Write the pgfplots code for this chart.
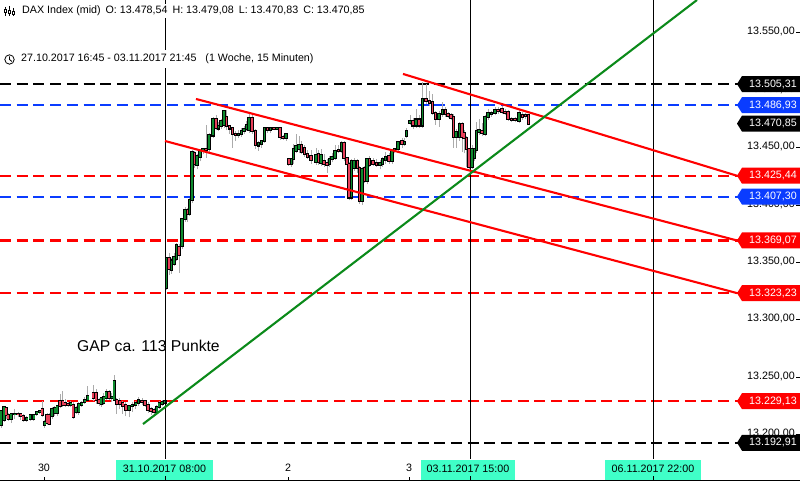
\documentclass[border=0pt]{standalone}
\usepackage{fontspec}
\setmainfont{Liberation Sans}
\usepackage{pgfplots}
\usepackage{pgfplotstable}
\pgfplotsset{compat=1.18}
\definecolor{cgreen}{HTML}{0E8A2E}
\definecolor{cred}{HTML}{E8405A}
\definecolor{lred}{HTML}{FF0000}
\definecolor{lblue}{HTML}{0A3CFF}
\definecolor{tgreen}{HTML}{0B8A1A}
\definecolor{wick}{HTML}{ABABAB}
\definecolor{aqua}{HTML}{40FFC8}
\newcommand\lab{\fontsize{10.7bp}{13bp}\selectfont}
% x in chart pixels, open close high low in index points
\pgfplotstableread{
x o c h l
1.3 13208.7 13220.3 13221 13206
4 13213 13223.7 13224.5 13211
6 13223.2 13217.4 13224 13214
8.3 13217.4 13214 13218.5 13212
11.3 13214 13218 13219 13210
14.7 13218 13218.2 13222 13214
18 13218.2 13217.7 13220 13215
20.7 13217.7 13216 13219 13213
23.3 13216 13213 13218 13211
26.7 13213 13214.5 13216 13211
30.3 13214 13216.8 13218 13212
33.7 13214 13217.4 13218 13212
36.7 13218 13219.4 13220 13216
39.7 13219.4 13220.3 13221 13218
42.3 13222.3 13216.8 13229 13215
44.7 13208 13211 13213 13206
47 13217.4 13210 13219 13208
49.3 13216.8 13209.3 13219 13208
52 13216 13222.6 13224 13214
54.7 13218.8 13223.2 13225 13216
57.3 13218.8 13224.6 13226 13216
60 13229.5 13225 13235 13223
62.7 13229.5 13226 13238 13224
65.3 13227.5 13225.8 13231 13224
68 13226.6 13225.8 13228 13224
70.7 13225.8 13227.5 13229 13224
73.3 13226 13215 13228 13214
76 13219.4 13223.2 13225 13218
78.7 13219.4 13226.6 13228 13217
81.7 13225.5 13227.5 13229 13224
84.7 13228.4 13230.4 13233 13227
87.7 13230.4 13233.9 13242 13229
93.3 13236.2 13231.8 13243 13229
96.3 13236.2 13229.8 13240 13227
99 13229.8 13227.5 13232 13225
101.3 13226.6 13231.8 13233 13224
103.7 13227.5 13232.7 13236 13226
106.3 13231.8 13236.7 13240 13230
109.3 13236.7 13231.8 13239 13230
111.7 13231.8 13233 13236 13228
114.3 13230.4 13246.6 13252 13229
116.7 13230.4 13226.6 13232 13218
119.7 13229 13226.6 13232 13222
122.7 13227.5 13225 13229 13218
125.7 13226 13221.1 13228 13216
129 13221.7 13224.6 13226 13215
132.3 13224.6 13226 13228 13220
135.7 13226 13227.5 13229 13222
138.5 13227.5 13230.4 13233 13225
142 13229.5 13228.4 13232 13226
145 13229 13226 13230 13224
148 13226 13221.1 13228 13219
151 13222.3 13220.3 13224 13217
154 13221.7 13219.7 13223 13218
156.7 13219.7 13224 13226 13218
159.3 13224 13227.5 13229 13222
162.3 13226.6 13228.4 13230 13225
165 13227.5 13229 13233 13226
166.5 13327.6 13353.6 13354.5 13326
169 13353.6 13344.4 13358 13339
171.5 13343.5 13351.6 13354 13340
174 13348.7 13354.5 13358 13347
176.5 13353 13365.1 13367 13351
179 13363.7 13356.5 13366 13341
182 13364.6 13387.7 13389 13362
185 13387.7 13395.5 13398 13385
187.5 13395.5 13392 13397 13385
189.5 13392 13404.2 13406 13390
192 13404.2 13446 13448 13402
194.5 13445.5 13435.4 13447 13432
197 13434.8 13442.6 13444 13431
200 13442 13446.9 13449 13438
203 13446.9 13448.4 13450 13444
206 13448.4 13447.5 13470 13441
209 13448.4 13460.5 13463 13445
213 13460.5 13475.2 13477 13458
216 13475.2 13467.2 13478 13465
218.5 13466.6 13468.6 13472 13464
221 13468.6 13472.9 13475 13466
224 13470 13481.6 13483 13467
226.5 13476.7 13468.6 13483 13465
229.5 13468.6 13466.6 13470 13462
232.5 13466.6 13461.4 13468 13450
235.5 13462.2 13460.8 13464 13456
238.5 13460.8 13462 13465 13458
241.5 13461.9 13464.8 13467 13459
244 13464.3 13466 13469 13462
246.5 13466 13470 13473 13464
249 13465.7 13475.8 13479 13463
252 13475.8 13464.3 13478 13462
255.5 13464.3 13452 13466 13449
258.5 13451.8 13454.1 13456 13447
261.5 13452.7 13455.6 13457 13450
264.5 13455.6 13466.6 13468 13454
267.5 13467 13465.5 13468 13463
270.5 13465.5 13467 13468 13463
274 13467 13466.5 13468 13465
277 13466.6 13467 13468 13465
280 13466.6 13459.3 13468 13457
283 13459.3 13458.7 13461 13457
286 13458.5 13461.4 13463 13456
288.7 13439.7 13435.4 13441 13434
291.5 13435.9 13439.7 13441 13433
293.5 13439.7 13448.4 13453 13436
296 13446.9 13451.3 13462 13445
299 13448.4 13452.1 13460 13445
301.5 13452.1 13446 13456 13444
304.5 13449.2 13444 13452 13442
307.5 13444 13442 13448 13440
311 13442.6 13438.8 13448 13436
316 13437.7 13443.5 13450 13435
318.5 13444 13437.4 13448 13435
321 13436.8 13443.5 13449 13434
324 13438.3 13435.4 13444 13433
327 13436.8 13434.8 13440 13428
329.5 13435.4 13439.7 13443 13433
332 13439.7 13442 13445 13437
335 13441 13447 13452 13439
338.5 13447.8 13446.9 13452 13445
341.5 13446.9 13453.6 13456 13445
344 13454.2 13441.1 13456 13438
347 13440.6 13435.4 13442 13432
349 13435.4 13406.5 13437 13404
351.5 13406.5 13438.3 13440 13404
354 13432.5 13438.3 13441 13430
357.5 13438.3 13432.5 13440 13428
359.5 13432.5 13403.6 13434 13401
362 13403.6 13431 13433 13400
364.5 13432.5 13421 13434 13419
367 13421 13439.7 13441 13418
369.5 13439.7 13435 13443 13433
373 13438.3 13435.4 13441 13434
376.5 13436.8 13434.5 13440 13433
380 13434.5 13436.8 13439 13431
382.5 13436 13439.7 13442 13433
385.5 13438.8 13442 13446 13436
389 13442.6 13438.3 13445 13436
392 13438.3 13446.9 13449 13436
394.5 13447.8 13448.4 13450 13445
398 13448.4 13454.7 13456 13446
402 13455.6 13452.7 13458 13450
404.5 13452.7 13455 13458 13451
406.5 13459.9 13464.8 13467 13458
410 13471.5 13473.5 13478 13470
413 13473.5 13469.2 13476 13466
416 13469.2 13474.4 13484 13467
419 13474.4 13469.2 13478 13467
422.5 13469.2 13492.6 13507 13467
426 13492.6 13490.3 13505 13488
429.5 13490.8 13488.8 13499 13486
432.5 13489.7 13480.1 13497 13478
435.5 13480.1 13475.2 13482 13470
439 13475.2 13479.3 13482 13468
442.5 13479.3 13483 13490 13477
445.5 13483 13479.6 13485 13477
448 13479.6 13477.8 13481 13476
451 13478 13476 13480 13474
453.5 13477 13459 13479 13450
456 13459 13463.4 13466 13450
459.5 13459 13470.6 13472 13456
462 13470.6 13459 13472 13446
464 13462.8 13458.5 13465 13445
466.5 13458.5 13448.4 13460 13433
469 13448.4 13433 13450 13431
472 13433 13448.4 13452 13431
474.5 13440.6 13448.4 13450 13438
476.5 13447.5 13464 13472 13445
479 13463.7 13465 13475 13461
482 13464.8 13462.8 13471 13460
485 13461.9 13476.4 13478 13460
488 13476.4 13480.1 13484 13474
491.5 13479.5 13480.1 13482 13477
495 13480.1 13483 13485 13478
498 13483 13481.6 13485 13479
502 13483.9 13481 13486 13479
505 13481 13480 13484 13478
508 13481 13475.2 13483 13473
511.5 13475.2 13474.4 13477 13472
515 13475.2 13474.4 13477 13472
519 13473.3 13480.1 13484 13471
522.5 13478.7 13476.4 13481 13474
525.5 13478 13477.3 13480 13475
528.5 13478.54 13470.85 13479.08 13470.83
}\candles
\newcommand\hl[2]{\addplot[#1,line width=2.1bp,dash pattern=on 11bp off 5.7bp,forget plot] coordinates {(0,#2) (740,#2)};}
\newcommand\flag[3]{%
  \fill[#1] (axis cs:737,#2) -- ++(5bp,8bp) -- ++(58bp,0pt) -- ++(0pt,-16bp) -- ++(-58bp,0pt) -- cycle;
  \node[anchor=east,text=white,inner sep=0pt,font=\lab] at (axis cs:797,#2) {#3};}
\begin{document}
\begin{tikzpicture}
\begin{axis}[
    set layers,
    scale only axis,
    scaled ticks=false,
    width=800bp,height=481bp,
    xmin=0,xmax=800,
    ymin=13159.6,ymax=13578.5,
    axis x line=bottom,
    axis y line=right,
    axis line style={-,line width=1.6bp},
    y axis line style={draw=none},
    tick align=inside,
    major tick length=4bp,
    tick style={black,line width=0.8bp},
    ytick={13200,13250,13300,13350,13400,13450,13500,13550},
    yticklabels={13.200{,}00,13.250{,}00,13.300{,}00,13.350{,}00,13.400{,}00,13.450{,}00,13.500{,}00,13.550{,}00},
    yticklabel style={font=\lab,anchor=east,inner sep=0pt,xshift=-5bp,yshift=1bp},
    xtick={44,288,409},
    xticklabels={30,2,3},
    xticklabel style={font=\lab,anchor=center,yshift=13bp},
    ]
    \hl{black}{13505.31}
    \hl{lblue}{13486.93}
    \hl{lred}{13425.44}
    \hl{lblue}{13407.30}
    \hl{lred}{13369.07}
    \hl{lred}{13323.23}
    \hl{lred}{13229.13}
    \hl{black}{13192.91}
    % wicks, then the black outline, then the coloured bodies
    \addplot[draw=none,mark=none,forget plot,
        error bars/.cd,y dir=plus,y explicit,error mark=none,
        error bar style={draw=wick,line width=0.9bp}]
        table[x=x,y=l,y error plus expr={\thisrow{h}-\thisrow{l}}] {\candles};
    \addplot[draw=none,mark=none,forget plot,
        error bars/.cd,y dir=both,y explicit,error mark=none,
        error bar style={draw=black,line width=3.5bp}]
        table[x=x,y=o,y error plus expr={max(\thisrow{c}-\thisrow{o},0)+0.9},y error minus expr={max(\thisrow{o}-\thisrow{c},0)+0.9}] {\candles};
    \addplot[draw=none,mark=none,forget plot,
        restrict expr to domain={\thisrow{c}-\thisrow{o}}{0:1000},
        error bars/.cd,y dir=plus,y explicit,error mark=none,
        error bar style={draw=cgreen,line width=1.8bp}]
        table[x=x,y=o,y error plus expr={\thisrow{c}-\thisrow{o}}] {\candles};
    \addplot[draw=none,mark=none,forget plot,
        restrict expr to domain={\thisrow{o}-\thisrow{c}}{0:1000},
        error bars/.cd,y dir=plus,y explicit,error mark=none,
        error bar style={draw=cred,line width=1.8bp}]
        table[x=x,y=c,y error plus expr={\thisrow{o}-\thisrow{c}}] {\candles};
    % time markers
    \addplot[black,line width=1bp,forget plot] coordinates {(165,13578.5) (165,13178.7)};
    \addplot[black,line width=1bp,forget plot] coordinates {(470,13578.5) (470,13178.7)};
    \addplot[black,line width=1bp,forget plot] coordinates {(653,13578.5) (653,13178.7)};
    % channel and trend lines
    \addplot[lred,line width=2.1bp,forget plot] coordinates {(403,13514.1) (737,13425.44)};
    \addplot[lred,line width=2.1bp,forget plot] coordinates {(196,13492.3) (737,13369.07)};
    \addplot[lred,line width=2.1bp,forget plot] coordinates {(165,13455.7) (737,13323.23)};
    \addplot[tgreen,line width=2.1bp,forget plot] coordinates {(143,13209.2) (697,13578.5)};
    \flag{black}{13505.31}{13.505,31}
    \flag{lblue}{13486.93}{13.486,93}
    \flag{black}{13470.85}{13.470,85}
    \flag{lred}{13425.44}{13.425,44}
    \flag{lblue}{13407.30}{13.407,30}
    \flag{lred}{13369.07}{13.369,07}
    \flag{lred}{13323.23}{13.323,23}
    \flag{lred}{13229.13}{13.229,13}
    \flag{black}{13192.91}{13.192,91}
\end{axis}
\begin{scope}[x=1bp,y=-1bp,shift={(0,481bp)}]
    \node[anchor=west,fill=white,inner xsep=1bp,inner ysep=2bp,font=\lab] at (21,11) {DAX Index (mid)\hspace{5bp}O: 13.478,54\hspace{5bp}H: 13.479,08\hspace{5bp}L: 13.470,83\hspace{5bp}C: 13.470,85};
    \node[anchor=west,fill=white,inner xsep=1bp,inner ysep=4bp,font=\lab] at (20,59) {27.10.2017 16:45 - 03.11.2017 21:45\hspace{9bp}(1 Woche, 15 Minuten)};
    \node[anchor=west,inner sep=0pt,font=\fontsize{15.7bp}{18bp}\selectfont] at (77,346) {GAP ca. 113 Punkte};
    % header icons
    \draw[line width=0.8bp] (9.5,59.5) circle (4.7);
    \draw[line width=0.8bp] (9.5,56.5) -- (9.5,59.5) -- (12,61.5);
    \draw[line width=0.7bp] (5,7) -- (5,16) (9,6) -- (9,16) (13,8) -- (13,16);
    \fill[white,draw=black,line width=0.6bp] (3.8,9) rectangle (6.2,12) (7.8,10) rectangle (10.2,13) (11.8,11) rectangle (14.2,14);
    % date boxes
    \foreach \xa/\xb/\xm/\t in {116/213/165/31.10.2017 08:00,421/515/470/03.11.2017 15:00,605/701/653/06.11.2017 22:00}{
      \fill[aqua] (\xa,460) rectangle (\xb,480);
      \node[font=\lab,inner sep=0pt] at ({(\xa+\xb)/2},468.5) {\t};
      \draw[black,line width=0.8bp] (\xm,476.5) -- (\xm,480);
    }
\end{scope}
\pgfresetboundingbox
\path[use as bounding box] (0,0) rectangle (800bp,481bp);
\end{tikzpicture}
\end{document}
